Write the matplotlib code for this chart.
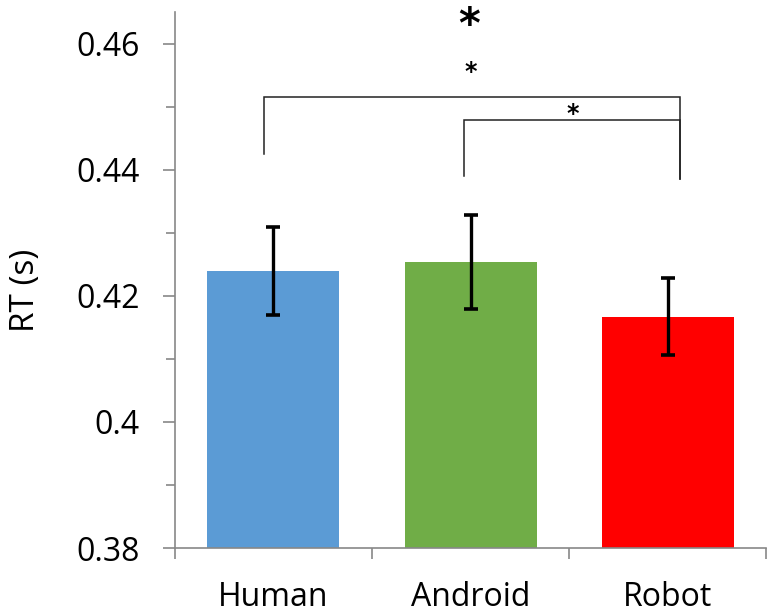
import matplotlib.pyplot as plt
import numpy as np

# Mean reaction time per agent with error bars
agents = ['Human', 'Android', 'Robot']
rt_mean = [0.4240, 0.4254, 0.4167]
rt_err = [0.0070, 0.0074, 0.0061]
bar_colors = ['#5B9BD5', '#70AD47', '#FF0000']

# Significance brackets: (left agent, right agent, bar height, left leg end, right leg end)
brackets = [
    (0, 2, 0.4515, 0.4425, 0.4386),
    (1, 2, 0.4479, 0.4390, 0.4386),
]
# Significance stars: (x position, y value, font size)
stars = [
    (0.99, 0.4628, 30),
    (1.00, 0.4556, 17),
    (1.52, 0.4489, 17),
]

plt.rcParams['font.family'] = ['Open Sans', 'DejaVu Sans']

fig = plt.figure(figsize=(7.67, 6.13), dpi=100)
ax = fig.add_axes([0.228, 0.106, 0.771, 0.874])

x = np.arange(len(agents))
ax.bar(x, rt_mean, width=0.67, color=bar_colors, zorder=2)
ax.errorbar(x, rt_mean, yerr=rt_err, fmt='none', ecolor='black',
            elinewidth=2.4, capsize=5, capthick=2.6, zorder=3)

leg_shift = {0: -0.046, 1: -0.034, 2: 0.06}
for a, b, top, ya, yb in brackets:
    xa = a + leg_shift[a]
    xb = b + leg_shift[b]
    ax.plot([xa, xa, xb, xb], [ya, top, top, yb], color='#222222', lw=1.1,
            solid_joinstyle='miter', zorder=4)

for sx, sy, fs in stars:
    ax.text(sx, sy, '*', ha='center', va='center', fontsize=fs,
            fontweight='bold', color='black', family='DejaVu Sans')

ax.set_xlim(-0.5, 2.5)
ax.set_ylim(0.38, 0.465)
ax.set_yticks([0.38, 0.40, 0.42, 0.44, 0.46])
ax.set_yticklabels(['0.38', '0.4', '0.42', '0.44', '0.46'])
ax.set_yticks(np.arange(0.39, 0.465, 0.02), minor=True)
ax.set_xticks(x)
ax.set_xticklabels(agents)
ax.set_xticks([-0.5, 0.5, 1.5, 2.5], minor=True)

for side in ['top', 'right']:
    ax.spines[side].set_visible(False)
for side in ['left', 'bottom']:
    ax.spines[side].set_color('#888888')
    ax.spines[side].set_linewidth(1.2)

ax.tick_params(axis='y', which='major', direction='out', length=8.5, width=1.2,
               color='#888888', labelsize=23, pad=17)
ax.tick_params(axis='y', which='minor', direction='out', length=6.5, width=1.2,
               color='#888888')
ax.tick_params(axis='x', which='major', length=0, labelsize=23, pad=24)
ax.tick_params(axis='x', which='minor', direction='out', length=8, width=1.2,
               color='#888888')

ax.set_ylabel('RT (s)', fontsize=24)
ax.yaxis.set_label_coords(-0.225, 0.48)

fig.savefig('out.png', dpi=100)
